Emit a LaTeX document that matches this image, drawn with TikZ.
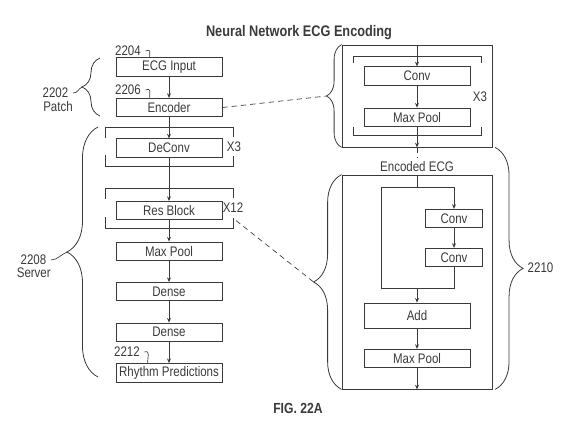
\documentclass[tikz,border=0pt]{standalone}
\usepackage{fontspec}
\setmainfont{Liberation Sans}[FakeStretch=0.83]
\usetikzlibrary{arrows.meta,positioning,calc,decorations.pathreplacing}
\definecolor{figInk}{HTML}{3A3A3A}
\newcommand{\lblsize}{\fontsize{10.4}{11}\selectfont}

\begin{document}
\begin{tikzpicture}[x=0.75pt,y=-0.75pt,font=\lblsize,text=figInk,
      layer/.style={draw=figInk,line width=0.6pt,minimum width=79.5pt,
                    minimum height=13.8pt,inner sep=0pt},
      narrow/.style={layer,minimum width=42.75pt},
      frame/.style={draw=figInk,line width=0.6pt,minimum width=112.5pt,inner sep=0pt},
      flow/.style={-{Stealth[length=3.5pt,width=3pt]},figInk,line width=0.6pt},
      wire/.style={figInk,line width=0.6pt},
      leader/.style={figInk,line width=0.5pt},
      link/.style={figInk,line width=0.5pt,dash pattern=on 4pt off 3pt},
      curly/.style={decorate,decoration={brace,amplitude=#1},figInk,line width=0.6pt},
      node distance=16pt]
    \useasboundingbox (0,0) rectangle (572,431);

    \node[font=\bfseries\fontsize{11.5}{12}\selectfont] (title) at (299,33)
      {Neural Network ECG Encoding};

    % left column
    \node[layer] (inp) at (169,67) {ECG Input};
    \node[layer,below=of inp] (enc) {Encoder};
    \node[layer,below=of enc] (deconv) {DeConv};
    \node[layer,below=32.5pt of deconv] (res) {Res Block};
    \node[layer,below=of res] (pool) {Max Pool};
    \node[layer,below=of pool] (dense1) {Dense};
    \node[layer,below=of dense1] (dense2) {Dense};
    \node[layer,below=of dense2] (rhythm) {Rhythm Predictions};

    \foreach \a/\b in {inp/enc,enc/deconv,deconv/res,res/pool,pool/dense1,
                       dense1/dense2,dense2/rhythm}
      \draw[flow] (\a) -- (\b);

    \draw[wire] (105,138) |- (233,127) -- (233,137);
    \draw[wire] (105,155) |- (233,166) -- (233,156);
    \node (x3a) at (234,147) {X3};
    \draw[wire] (105,199) |- (233,188) -- (233,198);
    \draw[wire] (105,217) |- (233,228) -- (233,218);
    \node (x12) at (233,208) {X12};

    \node (n2204) at (128,51) {2204};
    \draw[leader] (n2204.east) .. controls +(6,-2) and +(0,-6) .. ([xshift=25.5pt]inp.north west);
    \node (n2206) at (128,90) {2206};
    \draw[leader] (n2206.east) .. controls +(6,-2) and +(0,-6) .. ([xshift=25.5pt]enc.north west);
    \node (n2212) at (127,352) {2212};
    \draw[leader] (n2212.east) .. controls +(6,-2) and +(0,-6) .. ([xshift=24pt]rhythm.north west);

    % patch / server braces
    \draw[curly=13.5pt] (100,116) -- (100,58);
    \coordinate (tipPatch) at (82,87);
    \node[anchor=east] (n2202) at (73,93) {2202};
    \node[anchor=north east,inner sep=0pt] (patch) at (73,101) {Patch};
    \draw[leader] (n2202.east) .. controls +(5,0) and +(-4,2) .. (tipPatch);

    \draw[curly=23.25pt] (98,377) -- (98,127);
    \coordinate (tipServer) at (67,252);
    \node[anchor=east] (n2208) at (51,260) {2208};
    \node[anchor=north east,inner sep=0pt] (server) at (51,268) {Server};
    \draw[leader] (n2208.east) .. controls +(6,0) and +(-5,2) .. (tipServer);

    % encoder detail
    \node[frame,minimum height=76.5pt] (encbox) at (417,96) {};
    \node[layer] (conv) at (417,76) {Conv};
    \node[layer,below=16.5pt of conv] (mpool) {Max Pool};
    \draw[wire] (353,63) |- (481,56) -- (481,63);
    \draw[wire] (353,127) |- (481,135) -- (481,127);
    \node (x3b) at (480,97) {X3};
    \draw[flow] (conv |- encbox.north) -- (conv);
    \draw[flow] (conv) -- (mpool);
    \draw[flow] (mpool) -- (mpool |- encbox.south);
    \node (encecg) at (417,167) {Encoded ECG};
    \draw[link] (mpool |- encbox.south) -- (encecg.north);

    % res block detail
    \node[frame,minimum height=160.5pt] (resbox) at (417,282) {};
    \coordinate (split) at (417,187);
    \coordinate (loopL) at (381,288);
    \node[narrow] (conv1) at (454,218.5) {Conv};
    \node[narrow] (conv2) at (454,257.5) {Conv};
    \node[layer,minimum height=18.75pt] (add) at (417,315.5) {Add};
    \node[layer] (mpool2) at (417,358.5) {Max Pool};
    \draw[wire] (split |- resbox.north) -- (split);
    \draw[flow] (loopL) |- (conv1.north |- split) -- (conv1);
    \draw[flow] (conv1) -- (conv2);
    \draw[wire] (conv2) -- (conv2.south |- loopL) -- (loopL);
    \draw[flow] (split |- loopL) -- (add);
    \draw[flow] (add) -- (mpool2);
    \draw[flow] (mpool2) -- (mpool2 |- resbox.south);

    % detail braces
    \draw[curly=11.25pt] (encbox.south west) -- (encbox.north west);
    \draw[curly=21pt] (resbox.south west) -- (resbox.north west);
    \draw[curly=21pt] ([xshift=2pt]encbox.south east) -- ([xshift=2pt]resbox.south east);
    \node[anchor=west] (n2210) at (523,268) {2210};

    \draw[link] (enc.east) -- ($(encbox.west)+(-15,0)$);
    \draw[link] ($(x12.south)+(3,3)$) -- ($(resbox.west)+(-28,0)$);

    \node[font=\bfseries\fontsize{11}{12}\selectfont] (fig) at (298,408) {FIG. 22A};
\end{tikzpicture}
\end{document}
